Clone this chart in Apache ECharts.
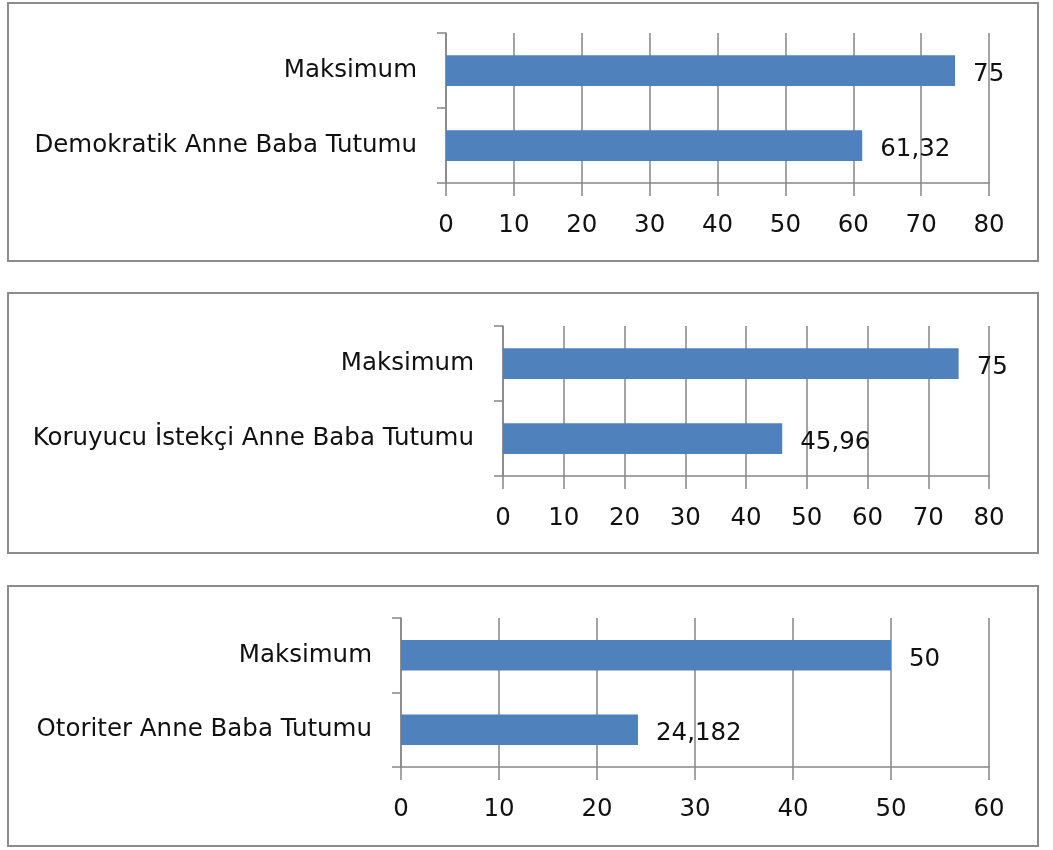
<!DOCTYPE html>
<html>
<head>
<meta charset="utf-8">
<script src="https://cdn.jsdelivr.net/npm/echarts@6/dist/echarts.min.js"></script>
<style>
  html, body { margin: 0; padding: 0; background: #fff; }
  #chart { width: 1053px; height: 850px; }
</style>
</head>
<body>
<div id="chart"></div>
<script>
// panel data (bottom category first, as the category axis runs bottom -> top)
const demokratikCats = ['Demokratik Anne Baba Tutumu', 'Maksimum']
const demokratikVals = [61.32, 75]
const koruyucuCats = ['Koruyucu İstekçi Anne Baba Tutumu', 'Maksimum']
const koruyucuVals = [45.96, 75]
const otoriterCats = ['Otoriter Anne Baba Tutumu', 'Maksimum']
const otoriterVals = [24.182, 50]
const axisMaxes = [80, 80, 60]

const FONT = 'DejaVu Sans'
const FONT_SIZE = 24.5
const GRID_COLOR = '#868686'
const BAR_COLOR = '#4F81BD'

const panels = [
    {cats: demokratikCats, vals: demokratikVals, grid: {left: 446, top: 33, width: 543, height: 150}, box: [8, 3, 1030, 258]},
    {cats: koruyucuCats, vals: koruyucuVals, grid: {left: 503, top: 326, width: 486, height: 150}, box: [8, 293, 1030, 260]},
    {cats: otoriterCats, vals: otoriterVals, grid: {left: 401, top: 618, width: 588, height: 149}, box: [8, 586, 1030, 260]}
]

const chart = echarts.init(document.getElementById('chart'))

const option = {
    animation: false,
    textStyle: {fontFamily: FONT},
    grid: panels.map(p => p.grid),
    xAxis: panels.map((p, i) => ({
        type: 'value',
        gridIndex: i,
        min: 0,
        max: axisMaxes[i],
        interval: 10,
        axisLine: {show: true, lineStyle: {color: GRID_COLOR, width: 1.5}},
        axisTick: {show: true, length: 13, lineStyle: {color: GRID_COLOR, width: 1.5}},
        splitLine: {show: true, lineStyle: {color: GRID_COLOR, width: 1.5}},
        axisLabel: {color: '#111', fontFamily: FONT, fontSize: FONT_SIZE, margin: 30}
    })),
    yAxis: panels.map((p, i) => ({
        type: 'category',
        gridIndex: i,
        data: p.cats,
        axisLine: {show: true, lineStyle: {color: GRID_COLOR, width: 1.5}},
        axisTick: {show: true, length: 9, lineStyle: {color: GRID_COLOR, width: 1.5}},
        axisLabel: {color: '#111', fontFamily: FONT, fontSize: FONT_SIZE, margin: 29}
    })),
    series: panels.map((p, i) => ({
        type: 'bar',
        xAxisIndex: i,
        yAxisIndex: i,
        data: p.vals,
        barWidth: '41%',
        itemStyle: {color: BAR_COLOR},
        label: {
            show: true,
            position: 'right',
            distance: 18,
            offset: [0, 4],
            color: '#111',
            fontFamily: FONT,
            fontSize: FONT_SIZE,
            formatter: d => String(d.value).replace('.', ',')
        }
    })),
    graphic: panels.map(p => ({
        type: 'rect',
        silent: true,
        shape: {x: p.box[0], y: p.box[1], width: p.box[2], height: p.box[3]},
        style: {fill: 'none', stroke: '#8c8c8c', lineWidth: 2}
    }))
}

chart.setOption(option)
</script>
</body>
</html>
